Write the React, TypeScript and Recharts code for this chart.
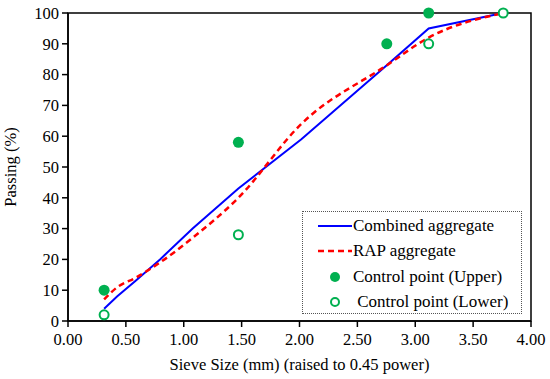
import {
  ComposedChart, Line, Scatter, XAxis, YAxis, ReferenceArea,
} from 'recharts';

// sieve sizes (mm) raised to 0.45 power
const SIEVE_X = [0.312, 0.426, 0.582, 0.795, 1.077, 1.472, 2.016, 2.754, 3.116, 3.76];
const COMBINED = [4, 8, 13, 20, 30, 43, 59, 83, 95, 100];
const RAP = [7, 11, 14, 19, 27, 40, 64, 83, 92, 100];

const CTRL_X = [0.312, 1.472, 2.754, 3.116, 3.76];
const CTRL_UPPER = [10, 58, 90, 100, null];
const CTRL_LOWER = [2, 28, null, 90, 100];

const X_TICKS = [0, 0.5, 1, 1.5, 2, 2.5, 3, 3.5, 4];
const Y_TICKS = [0, 10, 20, 30, 40, 50, 60, 70, 80, 90, 100];

const GREEN = '#00b050';
const FONT = '"Liberation Serif", "Times New Roman", serif';

const combinedData = SIEVE_X.map((x, i) => ({ x, y: COMBINED[i] }));
const rapData = SIEVE_X.map((x, i) => ({ x, y: RAP[i] }));
const upperData = CTRL_X.map((x, i) => ({ x, y: CTRL_UPPER[i] })).filter((d) => d.y !== null);
const lowerData = CTRL_X.map((x, i) => ({ x, y: CTRL_LOWER[i] })).filter((d) => d.y !== null);

const HollowDot = (props: any) => (
  <circle cx={props.cx} cy={props.cy} r={4.5} fill="#fff" stroke={GREEN} strokeWidth={2} />
);
const FilledDot = (props: any) => (
  <circle cx={props.cx} cy={props.cy} r={5.5} fill={GREEN} />
);

const LegendBox = () => {
  const rows = [
    { label: 'Combined aggregate', kind: 'solid' },
    { label: 'RAP aggregate', kind: 'dash' },
    { label: 'Control point (Upper)', kind: 'filled' },
    { label: ' Control point (Lower)', kind: 'hollow' },
  ];
  return (
    <div
      style={{
        position: 'absolute', left: 302, top: 211,
        width: 220, height: 103, boxSizing: 'border-box',
        border: '1px dotted #555', background: '#fff',
        fontFamily: FONT, fontSize: 17, color: '#000',
        paddingTop: 1,
      }}
    >
      {rows.map((r) => (
        <div key={r.label} style={{ display: 'flex', alignItems: 'center', height: 25.5 }}>
          <svg width={50} height={14} style={{ flex: 'none' }}>
            {r.kind === 'solid' && <line x1={15} x2={49} y1={7} y2={7} stroke="#0000ff" strokeWidth={2} />}
            {r.kind === 'dash' && <line x1={15} x2={49} y1={7} y2={7} stroke="#ff0000" strokeWidth={2.5} strokeDasharray="6 4" />}
            {r.kind === 'filled' && <circle cx={32} cy={7} r={5} fill={GREEN} />}
            {r.kind === 'hollow' && <circle cx={32} cy={7} r={4} fill="#fff" stroke={GREEN} strokeWidth={2} />}
          </svg>
          <span style={{ whiteSpace: 'pre' }}>{r.label}</span>
        </div>
      ))}
    </div>
  );
};

export default function App() {
  return (
    <div style={{ position: 'absolute', left: 0, top: 0, width: 550, height: 379, background: '#fff', fontFamily: FONT }}>
      <ComposedChart
        width={550}
        height={379}
        margin={{ top: 13, right: 19, left: 26, bottom: 9 }}
        style={{ fontFamily: FONT }}
      >
        <XAxis
          dataKey="x"
          type="number"
          domain={[0, 4]}
          ticks={X_TICKS}
          interval={0}
          tickFormatter={(v: number) => v.toFixed(2)}
          tick={{ fill: '#000', fontSize: 16.5, fontFamily: FONT }}
          tickSize={6}
          tickMargin={6}
          axisLine={{ stroke: '#000', strokeWidth: 1.5 }}
          tickLine={{ stroke: '#000', strokeWidth: 1.5 }}
          height={49}
          label={{ value: 'Sieve Size (mm) (raised to 0.45 power)', position: 'insideBottom', offset: 0, fill: '#000', fontSize: 16.5, fontFamily: FONT }}
        />
        <YAxis
          type="number"
          domain={[0, 100]}
          ticks={Y_TICKS}
          interval={0}
          tick={{ fill: '#000', fontSize: 16.5, fontFamily: FONT }}
          tickSize={6}
          tickMargin={3}
          axisLine={{ stroke: '#000', strokeWidth: 1.5 }}
          tickLine={{ stroke: '#000', strokeWidth: 1.5 }}
          width={42}
          label={{ value: 'Passing (%)', angle: -90, position: 'insideLeft', offset: -16, fill: '#000', fontSize: 16.5, fontFamily: FONT, style: { textAnchor: 'middle' } }}
        />
        <ReferenceArea x1={0} x2={4} y1={0} y2={100} fill="none" stroke="#000" strokeWidth={1.5} />
        <Line data={combinedData} dataKey="y" type="linear" stroke="#0000ff" strokeWidth={2} dot={false} isAnimationActive={false} />
        <Line data={rapData} dataKey="y" type="monotone" stroke="#ff0000" strokeWidth={2.5} strokeDasharray="6 4" dot={false} isAnimationActive={false} />
        <Scatter data={upperData} dataKey="y" fill={GREEN} shape={FilledDot} isAnimationActive={false} />
        <Scatter data={lowerData} dataKey="y" fill={GREEN} shape={HollowDot} isAnimationActive={false} />
      </ComposedChart>
      <LegendBox />
    </div>
  );
}
